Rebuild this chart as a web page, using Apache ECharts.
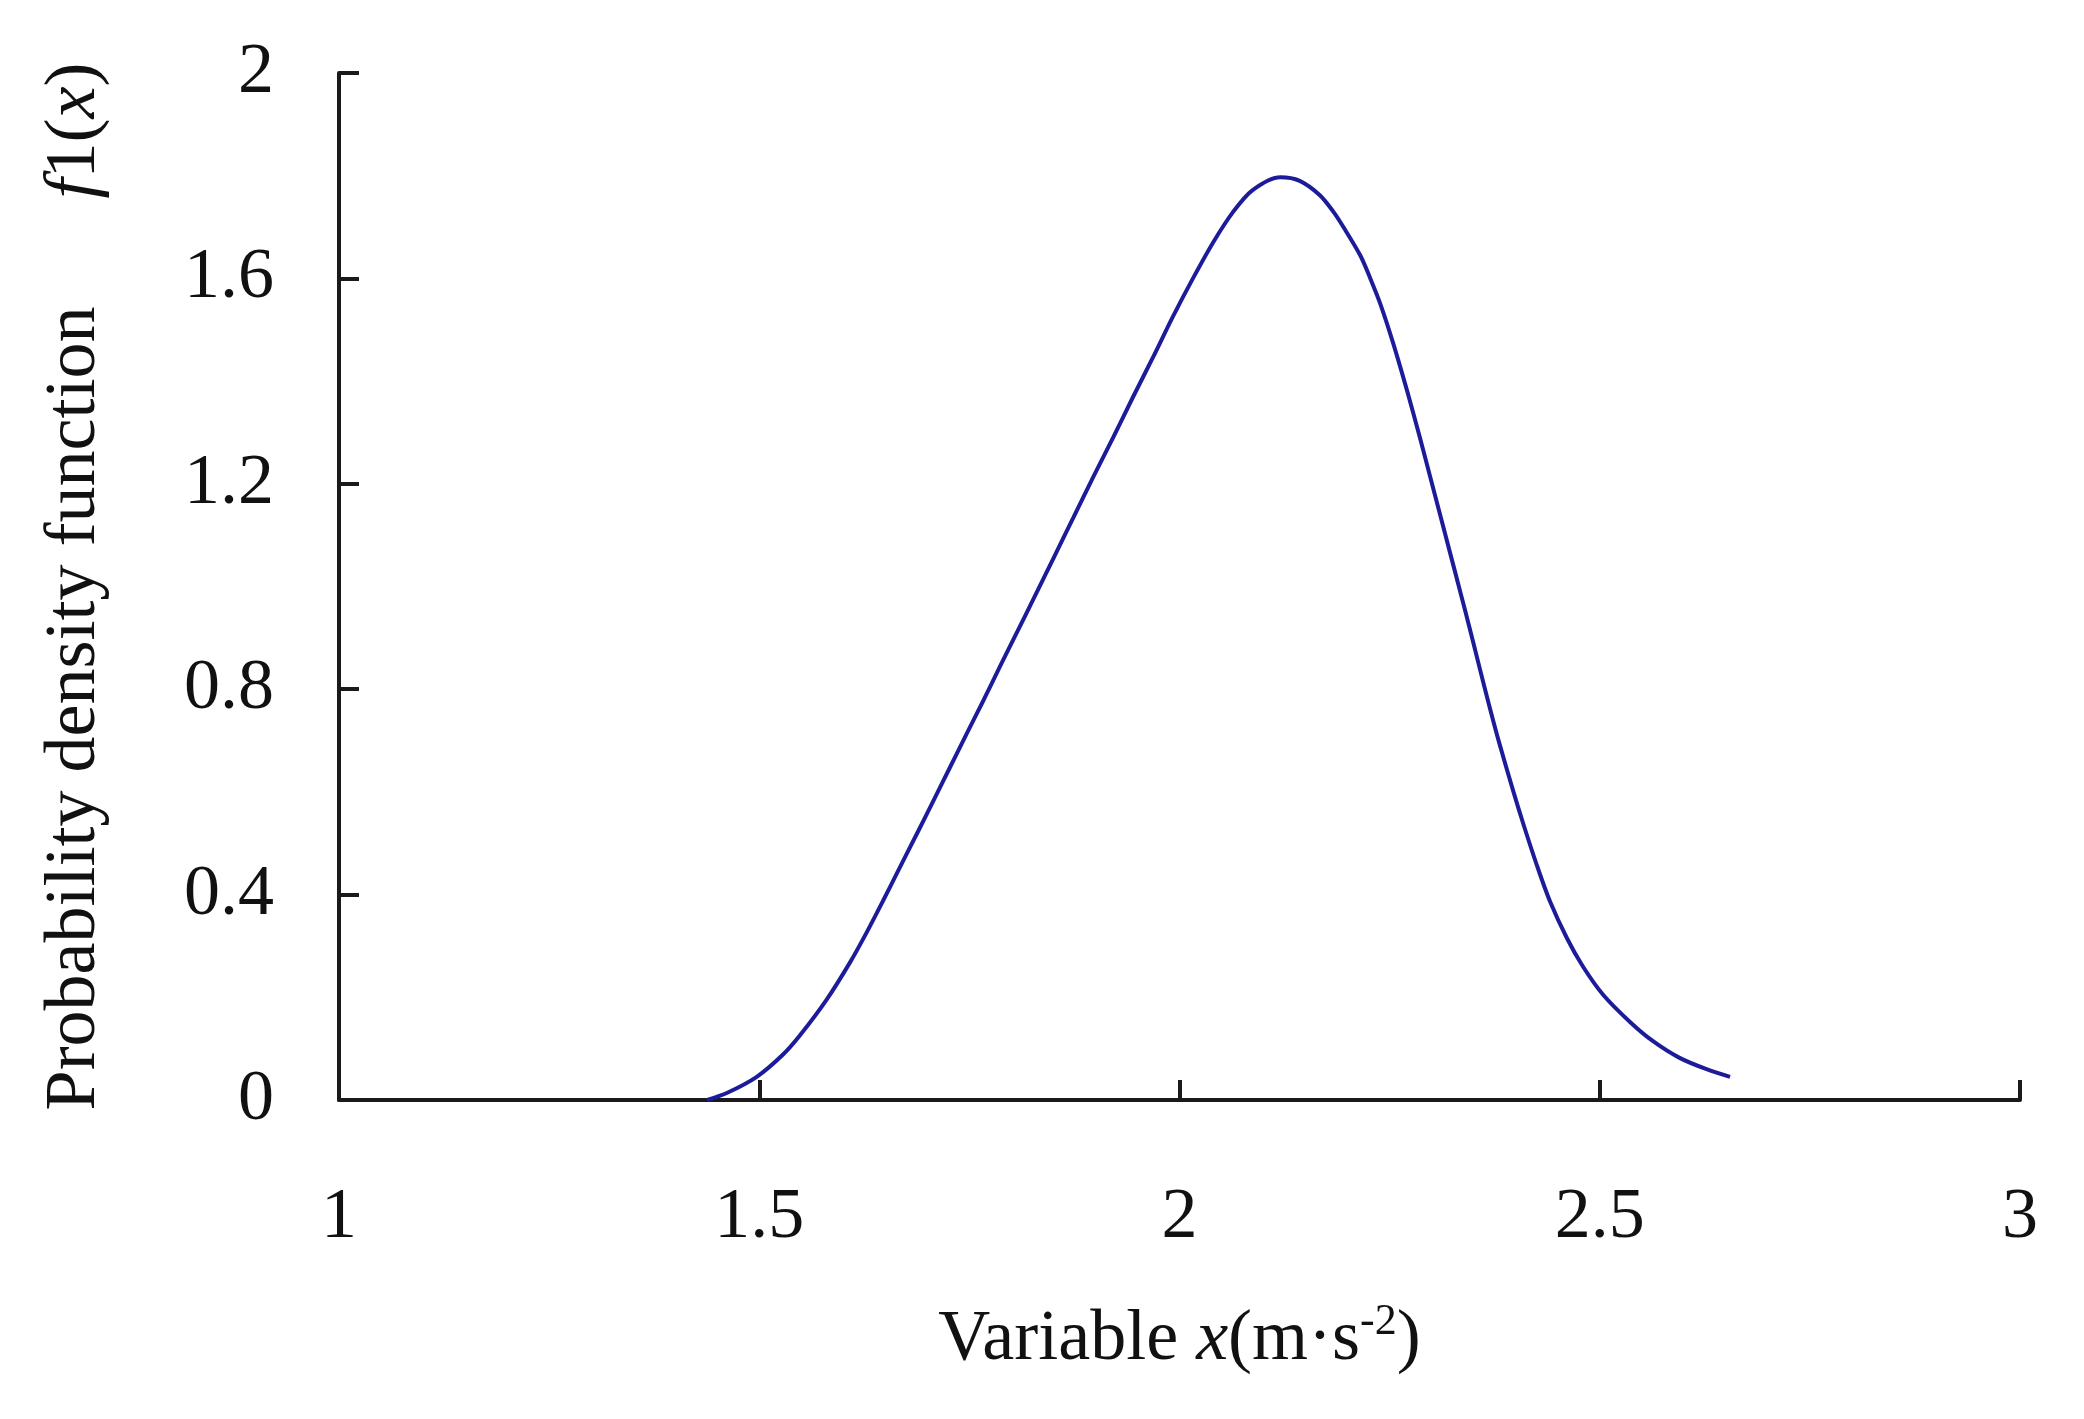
<!DOCTYPE html>
<html>
<head>
<meta charset="utf-8">
<script src="https://cdn.jsdelivr.net/npm/echarts@6/dist/echarts.min.js"></script>
<style>
  html, body { margin: 0; padding: 0; background: #fff; }
  #chart { width: 2084px; height: 1419px; }
</style>
</head>
<body>
<div id="chart"></div>
<script>
// values
const xValues = [
  1.438, 1.462, 1.497, 1.528, 1.548, 1.58, 1.608, 1.628, 1.647, 1.667,
  1.688, 1.707, 1.727, 1.747, 1.767, 1.786, 1.807, 1.826, 1.85, 1.874,
  1.897, 1.921, 1.945, 1.969, 1.992, 2.016, 2.04, 2.064, 2.087, 2.12,
  2.143, 2.167, 2.183, 2.195, 2.215, 2.227, 2.239, 2.254, 2.271, 2.286,
  2.298, 2.31, 2.322, 2.334, 2.345, 2.357, 2.369, 2.381, 2.397, 2.409,
  2.425, 2.441, 2.461, 2.48, 2.504, 2.536, 2.563, 2.595, 2.627, 2.655
]
const yValues = [
  0.0, 0.014, 0.045, 0.088, 0.125, 0.195, 0.268, 0.327, 0.387, 0.452,
  0.52, 0.582, 0.648, 0.714, 0.779, 0.843, 0.912, 0.975, 1.055, 1.135,
  1.212, 1.29, 1.37, 1.448, 1.525, 1.6, 1.67, 1.73, 1.772, 1.797,
  1.79, 1.762, 1.73, 1.7, 1.645, 1.6, 1.55, 1.475, 1.38, 1.29,
  1.215, 1.14, 1.065, 0.99, 0.92, 0.842, 0.765, 0.692, 0.602, 0.538,
  0.458, 0.386, 0.315, 0.26, 0.205, 0.152, 0.115, 0.082, 0.06, 0.045
]
const xTicks = [1, 1.5, 2, 2.5, 3]
const yTicks = [0, 0.4, 0.8, 1.2, 1.6, 2]

const font = 'Liberation Serif'
const axisColor = '#1a1a1a'

const chart = echarts.init(document.getElementById('chart'))

const axisCommon = {
  type: 'value',
  nameLocation: 'middle',
  splitLine: { show: false },
  axisLine: { show: true, lineStyle: { color: axisColor, width: 4 } },
  axisTick: { show: true, inside: true, length: 20, lineStyle: { color: axisColor, width: 4 } },
  axisLabel: { color: '#111', fontFamily: font, fontSize: 72 }
}

chart.setOption({
  animation: false,
  backgroundColor: '#fff',
  grid: { left: 339, right: 64, top: 73, bottom: 319, containLabel: false },
  xAxis: {
    ...axisCommon,
    min: xTicks[0],
    max: xTicks[xTicks.length - 1],
    interval: 0.5,
    name: 'Variable {i|x}(m·s{sup|-2})',
    nameGap: 200,
    nameTextStyle: {
      color: '#111', fontFamily: font, fontSize: 72, lineHeight: 80,
      rich: {
        i: { fontFamily: font, fontStyle: 'italic', fontSize: 72, color: '#111' },
        sup: { fontFamily: font, fontSize: 44, verticalAlign: 'top', lineHeight: 80, color: '#111' }
      }
    },
    axisLabel: { ...axisCommon.axisLabel, margin: 82 }
  },
  yAxis: {
    ...axisCommon,
    min: yTicks[0],
    max: yTicks[yTicks.length - 1],
    interval: 0.4,
    name: 'Probability density function      {i|f}1({i|x})',
    nameGap: 228,
    nameTextStyle: {
      color: '#111', fontFamily: font, fontSize: 72,
      rich: {
        i: { fontFamily: font, fontStyle: 'italic', fontSize: 72, color: '#111' }
      }
    },
    axisLabel: { ...axisCommon.axisLabel, margin: 65 }
  },
  series: [
    {
      type: 'line',
      data: xValues.map((x, i) => [x, yValues[i]]),
      showSymbol: false,
      smooth: 0.3,
      lineStyle: { color: '#1c1c9a', width: 4 }
    }
  ]
})
</script>
</body>
</html>
